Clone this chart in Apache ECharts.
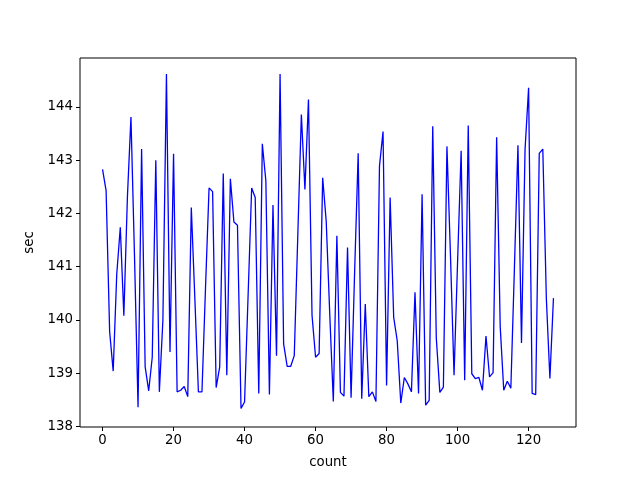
<!DOCTYPE html>
<html>
<head>
<meta charset="utf-8">
<script src="https://cdn.jsdelivr.net/npm/echarts@6/dist/echarts.min.js"></script>
<style>
  html, body { margin: 0; padding: 0; background: #fff; }
  #main { width: 640px; height: 480px; }
</style>
</head>
<body>
<div id="main"></div>
<script>
// seconds per run, index = count
const secValues = [
  142.83, 142.43, 139.78, 139.04, 140.86, 141.74, 140.08, 142.3, 143.81, 141.2,
  138.36, 143.21, 139.12, 138.67, 139.30, 143.00, 138.65, 140.0, 144.62, 139.40,
  143.12, 138.65, 138.68, 138.75, 138.56, 142.11, 140.4, 138.65, 138.65, 140.6,
  142.48, 142.41, 138.73, 139.12, 142.75, 138.96, 142.65, 141.84, 141.78, 138.34,
  138.46, 140.47, 142.48, 142.3, 138.62, 143.31, 142.61, 138.60, 142.16, 139.33,
  144.62, 139.55, 139.13, 139.13, 139.33, 141.6, 143.86, 142.45, 144.14, 140.09,
  139.30, 139.37, 142.67, 141.85, 140.1, 138.47, 141.58, 138.64, 138.57, 141.36,
  138.54, 140.9, 143.13, 138.52, 140.30, 138.56, 138.65, 138.47, 142.89, 143.54,
  138.77, 142.30, 140.05, 139.61, 138.44, 138.92, 138.80, 138.65, 140.52, 138.62,
  142.36, 138.40, 138.49, 143.64, 139.66, 138.64, 138.74, 143.26, 141.2, 138.96,
  141.1, 143.18, 138.87, 143.65, 138.99, 138.90, 138.92, 138.68, 139.70, 138.93,
  139.01, 143.43, 139.88, 138.68, 138.85, 138.72, 140.96, 143.28, 139.57, 143.2,
  144.36, 138.62, 138.6, 143.13, 143.21, 140.4, 138.90, 140.41
]
const xTicks = [0, 20, 40, 60, 80, 100, 120]
const yTicks = [138, 139, 140, 141, 142, 143, 144]

const points = secValues.map((v, i) => [i, v])

const chart = echarts.init(document.getElementById('main'))
const font = 'DejaVu Sans'
chart.setOption({
  animation: false,
  backgroundColor: '#fff',
  grid: {
    left: 80,
    top: 58,
    width: 496,
    height: 369,
    show: true,
    borderColor: '#000',
    borderWidth: 1,
    backgroundColor: 'transparent'
  },
  xAxis: {
    type: 'value',
    min: -6.35,
    max: 133.35,
    name: 'count',
    nameLocation: 'middle',
    nameGap: 29,
    nameTextStyle: { color: '#000', fontSize: 13.3, fontFamily: font },
    axisLine: { show: false, onZero: false },
    splitLine: { show: false },
    axisTick: {
      show: true,
      length: 4,
      lineStyle: { color: '#000' },
      customValues: xTicks
    },
    axisLabel: {
      color: '#000',
      fontSize: 13.3,
      fontFamily: font,
      margin: 7,
      customValues: xTicks
    }
  },
  yAxis: {
    type: 'value',
    min: 137.99,
    max: 144.92,
    name: 'sec',
    nameLocation: 'middle',
    nameGap: 44,
    nameTextStyle: { color: '#000', fontSize: 13.3, fontFamily: font },
    axisLine: { show: false, onZero: false },
    splitLine: { show: false },
    axisTick: {
      show: true,
      length: 4,
      lineStyle: { color: '#000' },
      customValues: yTicks
    },
    axisLabel: {
      color: '#000',
      fontSize: 13.3,
      fontFamily: font,
      margin: 7,
      padding: [3, 0, 0, 0],
      customValues: yTicks
    }
  },
  series: [
    {
      type: 'line',
      data: points,
      showSymbol: false,
      symbol: 'none',
      lineStyle: { color: '#0000ff', width: 1.3 }
    }
  ]
})
</script>
</body>
</html>
